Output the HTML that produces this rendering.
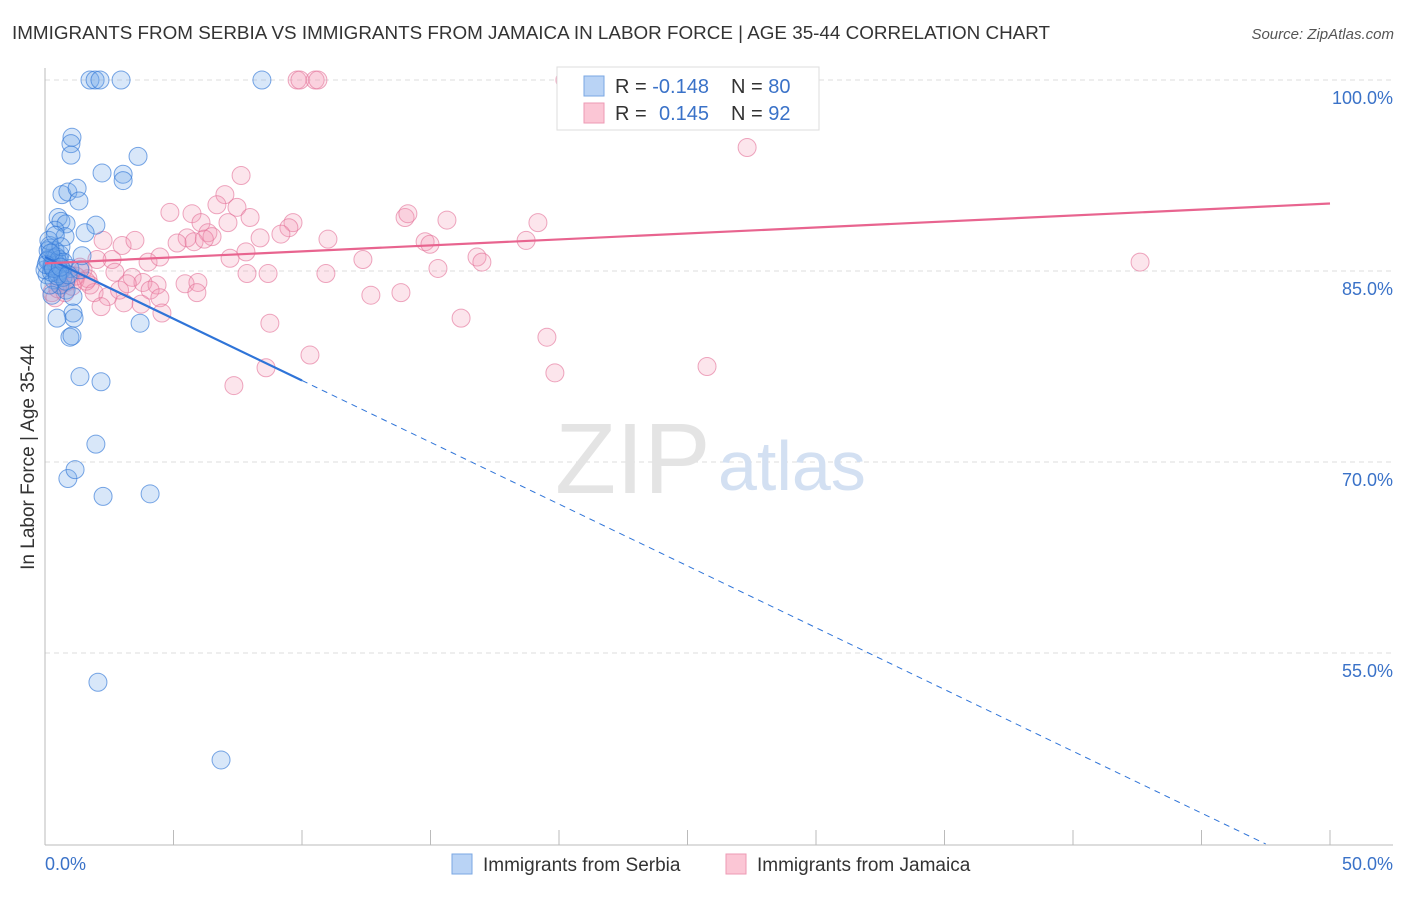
<!DOCTYPE html>
<html><head><meta charset="utf-8"><style>
body{margin:0;background:#fff;font-family:"Liberation Sans",sans-serif;}
svg text{font-family:"Liberation Sans",sans-serif;}
</style></head><body>
<svg id="chart" width="1406" height="892" viewBox="0 0 1406 892">
<text x="12" y="39" font-size="18" fill="#333" textLength="1038" lengthAdjust="spacingAndGlyphs">IMMIGRANTS FROM SERBIA VS IMMIGRANTS FROM JAMAICA IN LABOR FORCE | AGE 35-44 CORRELATION CHART</text>
<text x="1394" y="39" font-size="15" fill="#555" font-style="italic" text-anchor="end">Source: ZipAtlas.com</text>
<g id="grid"></g>
<text x="555" y="493" font-size="100" fill="#e4e4e4" font-family="Liberation Serif">ZIP</text>
<text x="718" y="490" font-size="70" fill="#d3e0f2">atlas</text>
<text transform="translate(34,457) rotate(-90)" font-size="19" fill="#333" text-anchor="middle">In Labor Force | Age 35-44</text>
<g id="points"></g>
<g id="lines"></g>
<g>
<rect x="557" y="67" width="262" height="63" fill="#fff" stroke="#ddd"/>
<rect x="584" y="76" width="20" height="20" fill="#b9d3f5" stroke="#7aa7e3"/>
<rect x="584" y="103" width="20" height="20" fill="#fbc6d5" stroke="#ee9ab4"/>
<text x="615" y="93" font-size="20" fill="#333">R = <tspan fill="#3a72c8">-0.148</tspan><tspan x="731">N = </tspan><tspan fill="#3a72c8">80</tspan></text>
<text x="615" y="120" font-size="20" fill="#333">R = <tspan x="659" fill="#3a72c8">0.145</tspan><tspan x="731">N = </tspan><tspan fill="#3a72c8">92</tspan></text>
</g>
<g>
<rect x="452" y="854" width="20" height="20" fill="#b9d3f5" stroke="#7aa7e3"/>
<text x="483" y="871" font-size="19" fill="#333">Immigrants from Serbia</text>
<rect x="726" y="854" width="20" height="20" fill="#fbc6d5" stroke="#ee9ab4"/>
<text x="757" y="871" font-size="19" fill="#333">Immigrants from Jamaica</text>
</g>
</svg>
<script>
const xTicks=[0,50];
const yTicks=[100,85,70,55];
const serbiaX=[1.75,1.95,2.14,2.96,8.44,1.05,1.01,1.01,3.62,2.22,3.04,3.04,0.66,0.89,1.25,1.32,0.51,0.62,0.82,1.98,0.39,0.78,1.56,0.19,0.39,0.58,0.12,0.27,0.51,0.66,0.97,1.36,1.44,0.08,0.35,0.58,0.82,1.09,0.27,0.47,1.09,1.13,3.70,0.97,1.05,1.36,2.18,1.98,0.89,1.17,2.26,4.09,2.06,6.85,0.19,0.0,0.12,0.27,0.43,0.58,0.35,0.20,0.50,0.70,0.30,0.45,0.10,0.25,0.55,0.80,0.15,0.40,0.62,0.05,0.33,0.48,0.72,0.22,0.60,0.90];
const serbiaY=[100,100,100,100,100,95.5,95.0,94.1,94.0,92.7,92.6,92.1,91.0,91.2,91.5,90.5,89.2,88.9,88.7,88.6,88.2,87.7,88.0,87.0,86.6,86.3,85.9,85.5,85.7,85.1,85.2,85.1,86.2,84.7,84.3,83.9,83.5,83.0,83.1,81.3,81.7,81.3,80.9,79.8,79.9,76.7,76.3,71.4,68.7,69.4,67.3,67.5,52.7,46.6,83.9,85.1,86.6,85.3,85.6,85.0,86.0,86.8,84.8,84.5,85.4,86.1,85.8,84.9,85.9,84.2,87.4,87.8,86.9,85.5,85.2,84.6,85.7,86.4,85.3,84.7];
const jamaicaX=[9.81,9.92,10.51,10.62,20.23,27.32,7.63,7.00,6.69,7.47,4.86,5.72,7.98,6.07,7.12,9.65,9.49,9.18,6.34,5.53,5.14,8.37,6.50,2.26,3.00,3.50,11.01,14.01,14.12,15.64,19.18,18.72,14.79,14.98,16.81,17.00,7.82,7.20,4.01,4.47,2.61,2.02,12.37,42.61,10.93,15.29,8.68,7.86,3.39,2.72,1.48,1.67,1.17,0.82,1.75,3.81,4.36,5.45,5.95,5.91,1.91,2.45,4.09,4.47,3.07,3.74,2.18,4.55,12.68,13.85,16.19,8.75,19.53,10.31,19.84,25.76,8.60,7.35,0.27,0.58,0.97,1.36,0.39,0.78,1.05,5.80,6.20,1.20,1.60,0.50,2.90,3.20];
const jamaicaY=[100,100,100,100,100,94.7,92.5,91.0,90.2,90.0,89.6,89.5,89.2,88.8,88.8,88.8,88.4,87.9,88.0,87.6,87.2,87.6,87.7,87.4,87.0,87.4,87.5,89.2,89.5,89.0,88.8,87.4,87.3,87.1,86.1,85.7,86.5,86.0,85.7,86.1,85.9,85.9,85.9,85.7,84.8,85.2,84.8,84.8,84.5,84.9,85.1,84.4,84.3,84.1,83.9,84.1,83.9,84.0,84.1,83.3,83.3,83.0,83.5,82.9,82.5,82.4,82.2,81.7,83.1,83.3,81.3,80.9,79.8,78.4,77.0,77.5,77.4,76.0,83.3,83.9,84.7,85.3,82.9,83.3,83.8,87.3,87.5,84.6,84.2,83.6,83.5,84.0];
const serbiaTrend=[0,86.1,10,76.4,47.5,40];
const jamaicaTrend=[0,85.6,50,90.3];
const NS='http://www.w3.org/2000/svg';
const X=v=>45+v*25.7;
const Y=v=>80+(100-v)*12.733;
function mk(tag,attrs,parent){const e=document.createElementNS(NS,tag);for(const k in attrs)e.setAttribute(k,attrs[k]);parent.appendChild(e);return e;}
const grid=document.getElementById('grid');
yTicks.forEach(t=>{
 const l=mk('line',{x1:45,x2:1393,y1:Y(t),y2:Y(t),stroke:'#ddd','stroke-dasharray':'5,4'},grid);
 
 
 const tx=mk('text',{x:1393,y:Y(t)+24,'font-size':18,fill:'#3a72c8','text-anchor':'end'},grid);
 tx.textContent=t.toFixed(1)+'%';
 
 
});
const ax=mk('line',{x1:45,x2:45,y1:68,y2:845,stroke:'#bbb'},grid);


const bx=mk('line',{x1:45,x2:1393,y1:845,y2:845,stroke:'#bbb'},grid);


for(let i=1;i<=10;i++){
 const t=mk('line',{x1:X(i*5),x2:X(i*5),y1:830,y2:845,stroke:'#bbb'},grid);
 
 
}
xTicks.forEach((t,i)=>{
 const tx=mk('text',{x:i==0?45:1393,y:870,'font-size':18,fill:'#3a72c8','text-anchor':i==0?'start':'end'},grid);
 tx.textContent=t.toFixed(1)+'%';
 
 
});
const pts=document.getElementById('points');
jamaicaX.forEach((x,i)=>{
 const c=mk('circle',{cx:X(x),cy:Y(jamaicaY[i]),r:9,fill:'rgba(244,150,180,0.25)',stroke:'rgba(226,110,150,0.6)','stroke-width':1},pts);
 
 
});
serbiaX.forEach((x,i)=>{
 const c=mk('circle',{cx:X(x),cy:Y(serbiaY[i]),r:9,fill:'rgba(110,165,232,0.27)',stroke:'rgba(50,120,215,0.65)','stroke-width':1},pts);
 
 
});
const lines=document.getElementById('lines');
const s1=mk('line',{x1:X(serbiaTrend[0]),y1:Y(serbiaTrend[1]),x2:X(serbiaTrend[2]),y2:Y(serbiaTrend[3]),stroke:'#2f74d8','stroke-width':2.2},lines);


const s2=mk('line',{x1:X(serbiaTrend[2]),y1:Y(serbiaTrend[3]),x2:X(serbiaTrend[4]),y2:Y(serbiaTrend[5]),stroke:'#2f74d8','stroke-width':1,'stroke-dasharray':'6,5'},lines);


const j1=mk('line',{x1:X(jamaicaTrend[0]),y1:Y(jamaicaTrend[1]),x2:X(jamaicaTrend[2]),y2:Y(jamaicaTrend[3]),stroke:'#e8648f','stroke-width':2.2},lines);


</script>
</body></html>
